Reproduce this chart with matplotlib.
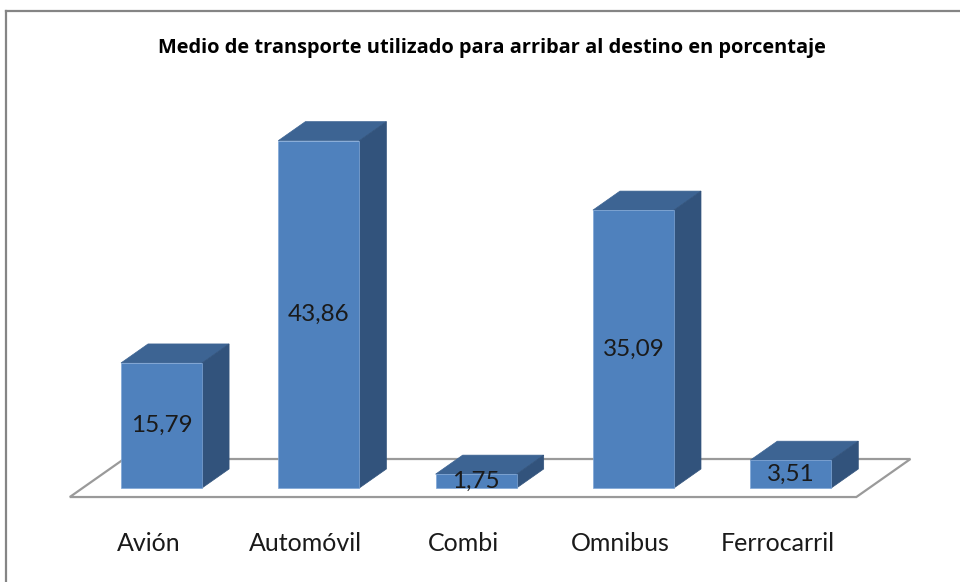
import matplotlib
matplotlib.use("Agg")
import matplotlib.pyplot as plt
from matplotlib.patches import Polygon
from matplotlib.lines import Line2D

categories = ["Avión", "Automóvil", "Combi", "Omnibus", "Ferrocarril"]
values = [15.79, 43.86, 1.75, 35.09, 3.51]
value_labels = ["15,79", "43,86", "1,75", "35,09", "3,51"]
title = "Medio de transporte utilizado para arribar al destino en porcentaje"

FRONT = "#4F81BD"
TOP = "#3D6493"
SIDE = "#32537C"
FLOOR_EDGE = "#9A9A9A"

fig = plt.figure(figsize=(9.6, 5.82), dpi=100)
ax = fig.add_axes([0, 0, 1, 1])
ax.set_xlim(-1.0267, 5.076)
ax.set_ylim(-11.87, 61.62)
ax.axis("off")

bw = 0.515      # bar width (category units)
ddx = 0.172     # depth offset x
ddy = 2.40      # depth offset y (value units)
shift = 0.083   # bars sit mid-depth of floor

# floor
n = len(categories)
fx0, fx1 = -0.5 - shift, n - 0.5 - shift
fy0 = -1.14
floor = Polygon([(fx0, fy0), (fx1, fy0), (fx1 + 2 * ddx, fy0 + 2 * ddy),
                 (fx0 + 2 * ddx, fy0 + 2 * ddy)], closed=True,
                facecolor="white", edgecolor=FLOOR_EDGE, lw=1.6, zorder=1)
ax.add_patch(floor)

xs = list(range(n))
ax.bar(xs, values, width=bw, color=FRONT, edgecolor="#7FA6D6", linewidth=0.5, zorder=3)
for x, v in zip(xs, values):
    l, r = x - bw / 2, x + bw / 2
    top = Polygon([(l, v), (r, v), (r + ddx, v + ddy), (l + ddx, v + ddy)],
                  closed=True, facecolor=TOP, edgecolor=TOP, lw=0.5, zorder=2)
    side = Polygon([(r, 0), (r + ddx, ddy), (r + ddx, v + ddy), (r, v)],
                   closed=True, facecolor=SIDE, edgecolor=SIDE, lw=0.5, zorder=2)
    ax.add_patch(top)
    ax.add_patch(side)

for x, v, lab in zip(xs, values, value_labels):
    ax.text(x, v / 2, lab, ha="center", va="center", fontsize=17.5,
            family="Lato", color="#1a1a1a", zorder=5)

for x, c in zip(xs, categories):
    ax.text(x - shift, -7.0, c, ha="center", va="center",
            fontsize=18, family="Lato", color="#1a1a1a")

fig.text(0.512, 1 - 48 / 582, title, ha="center", va="center", fontsize=14.4,
         family="Open Sans", fontweight="bold", color="black")

# outer frame (left and top edges visible)
fig.add_artist(Line2D([6 / 960, 6 / 960], [0, 1 - 11 / 582], color="#858585", lw=1.6,
                      transform=fig.transFigure))
fig.add_artist(Line2D([6 / 960, 1], [1 - 11 / 582, 1 - 11 / 582], color="#858585", lw=1.6,
                      transform=fig.transFigure))

fig.savefig("out.png", dpi=100, facecolor="white")
